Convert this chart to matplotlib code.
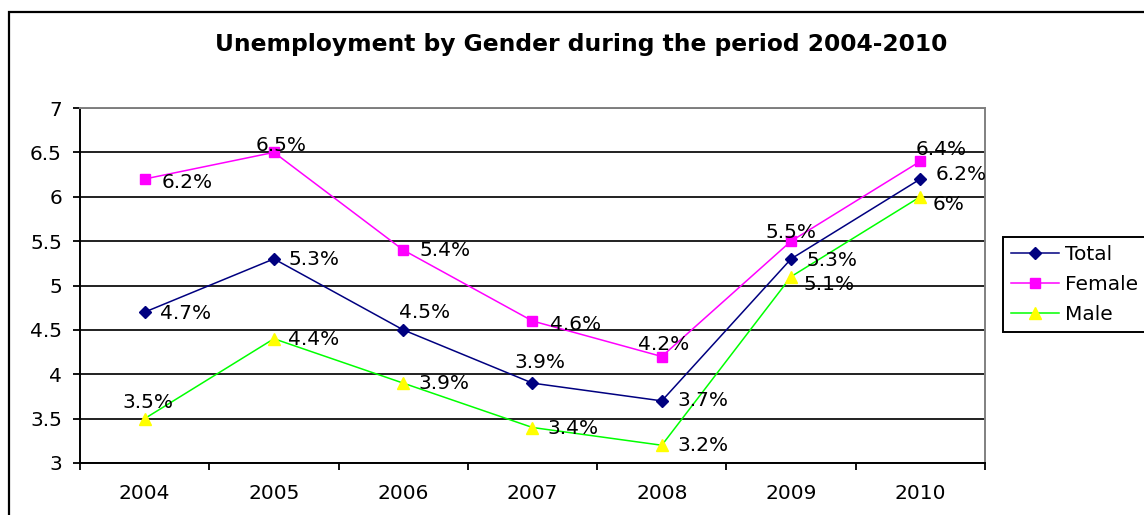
import matplotlib.pyplot as plt
from matplotlib.patches import Rectangle
from matplotlib.ticker import MultipleLocator

# unemployment rate (%) by year
years = ["2004", "2005", "2006", "2007", "2008", "2009", "2010"]
total = [4.7, 5.3, 4.5, 3.9, 3.7, 5.3, 6.2]
female = [6.2, 6.5, 5.4, 4.6, 4.2, 5.5, 6.4]
male = [3.5, 4.4, 3.9, 3.4, 3.2, 5.1, 6.0]

# where each value label sits relative to its point (pixels)
total_off = [(41, -1), (40, -1), (21, 17), (7, 21), (41, 0), (41, -2), (41, 5)]
female_off = [(43, -3), (7, 7), (42, -1), (43, -3), (2, 12), (0, 9), (21, 12)]
male_off = [(3, 16), (40, -1), (41, 0), (41, -1), (41, 0), (38, -8), (28, -8)]

W, H = 1144, 515
fig = plt.figure(figsize=(W / 100, H / 100), dpi=100)

# outer chart border (runs off the right and bottom edges)
fig.patches.append(Rectangle((8.5 / W, -0.1), 1.2, (H - 11.5) / H + 0.1,
                             transform=fig.transFigure, fill=False,
                             edgecolor="black", linewidth=1.6))

left, right, top, bottom = 80, 985, 108, 463
ax = fig.add_axes([left / W, (H - bottom) / H, (right - left) / W, (bottom - top) / H])

x = list(range(len(years)))
series = [
    ("Total", total, total_off, dict(color="#000080", marker="D", ms=6.5,
                                     mfc="#000080", mec="#000080")),
    ("Female", female, female_off, dict(color="#FF00FF", marker="s", ms=6.5,
                                        mfc="#FF00FF", mec="#FF00FF")),
    ("Male", male, male_off, dict(color="#00FF00", marker="^", ms=8.5,
                                  mfc="#FFFF00", mec="#FFFF00")),
]

fs = 14.5
for name, vals, offs, style in series:
    ax.plot(x, vals, label=name, lw=1.1, zorder=3, **style)
    for xi, v, (dx, dy) in zip(x, vals, offs):
        ax.annotate(f"{v:g}%", (xi, v), xytext=(dx, dy), textcoords="offset pixels",
                    ha="center", va="center", fontsize=fs, color="black", zorder=4)

ax.set_xlim(-0.5, len(years) - 0.5)
ax.set_ylim(3, 7)
ax.yaxis.set_major_locator(MultipleLocator(0.5))
ax.set_yticklabels([f"{t:g}" for t in ax.get_yticks()])
ax.yaxis.grid(True, color="#202020", linewidth=1.4)
ax.set_axisbelow(True)

ax.set_xticks(x)
ax.set_xticklabels(years)
ax.set_xticks([i - 0.5 for i in range(len(years) + 1)], minor=True)
ax.tick_params(axis="x", which="major", length=0, pad=15, labelsize=fs)
ax.tick_params(axis="x", which="minor", length=5, width=1.3, direction="out")
ax.tick_params(axis="y", length=5, width=1.3, direction="out", pad=8, labelsize=fs)

for side in ["left", "bottom"]:
    ax.spines[side].set_color("black")
    ax.spines[side].set_linewidth(1.4)
for side in ["top", "right"]:
    ax.spines[side].set_color("#808080")
    ax.spines[side].set_linewidth(1.4)

fig.text(581 / W, (H - 45) / H, "Unemployment by Gender during the period 2004-2010",
         ha="center", va="center", fontsize=16.8, fontweight="bold")

leg = ax.legend(loc="upper left", bbox_to_anchor=(1003 / W, (H - 237) / H),
                bbox_transform=fig.transFigure, fontsize=fs, frameon=True,
                fancybox=False, edgecolor="black", framealpha=1,
                handlelength=2.4, handletextpad=0.3, labelspacing=0.55,
                borderpad=0.4, borderaxespad=0)
leg.get_frame().set_linewidth(1.4)

fig.savefig("out.png", dpi=100)
